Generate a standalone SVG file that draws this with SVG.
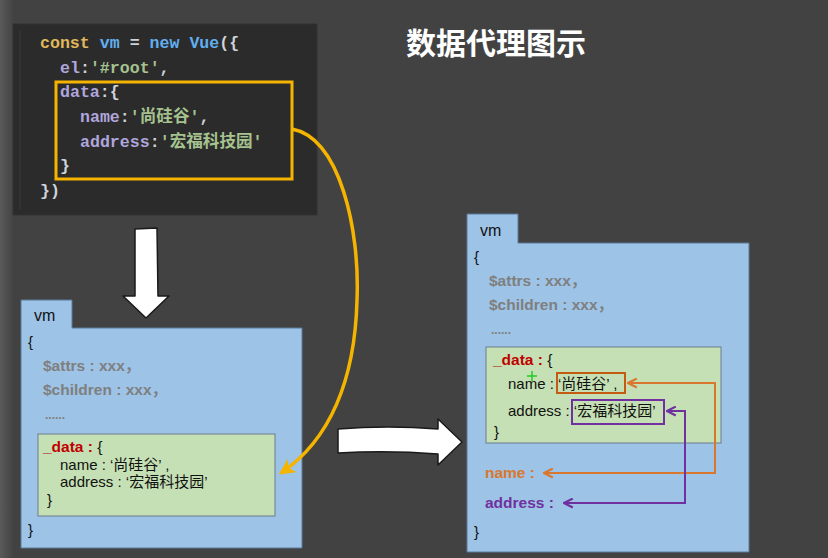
<svg xmlns="http://www.w3.org/2000/svg" width="828" height="558" viewBox="0 0 828 558">
<defs>
<linearGradient id="bgl" x1="0" y1="0" x2="1" y2="0">
<stop offset="0" stop-color="#5a5a5a"/><stop offset="1" stop-color="#424242"/>
</linearGradient>
<marker id="ya" viewBox="0 0 12 12" refX="10" refY="6" markerWidth="16" markerHeight="16" orient="auto" markerUnits="userSpaceOnUse">
<path d="M0,0 L12,6 L0,12 L3,6 Z" fill="#f5b400"/>
</marker>
<marker id="oa" viewBox="0 0 10 10" refX="9" refY="5" markerWidth="11" markerHeight="11" orient="auto-start-reverse" markerUnits="userSpaceOnUse">
<path d="M1,1 L9,5 L1,9" fill="none" stroke="#d9772f" stroke-width="2"/>
</marker>
<marker id="pa" viewBox="0 0 10 10" refX="9" refY="5" markerWidth="11" markerHeight="11" orient="auto-start-reverse" markerUnits="userSpaceOnUse">
<path d="M1,1 L9,5 L1,9" fill="none" stroke="#7030a0" stroke-width="2"/>
</marker>
</defs>
<style>
.code{font-family:"Liberation Mono","Noto Sans CJK SC",monospace;font-size:16.6px;font-weight:bold}
.kw{fill:#e0b85a}.bl{fill:#61afef}.pu{fill:#b0a6dc}.st{fill:#a5c28f}.pn{fill:#cfd3da}
.t{font-family:"Liberation Sans","Noto Sans CJK SC",sans-serif;fill:#111}
.g{font-weight:bold;fill:#7f7f7f;font-size:15.5px}
.vmbox{fill:#9dc3e6;stroke:#5b7a99;stroke-width:1}
.dbox{fill:#c5e0b4;stroke:#6a7d8c;stroke-width:1}
.arrow{fill:#ffffff;stroke:#1a1a1a;stroke-width:1.5;stroke-linejoin:round}
</style>
<rect width="828" height="558" fill="#424242"/>
<rect width="14" height="558" fill="url(#bgl)"/>

<text x="406" y="54" font-family="Noto Sans CJK SC,sans-serif" font-weight="bold" font-size="30" fill="#ffffff">数据代理图示</text>

<g id="code">
<rect x="13" y="24" width="304" height="191" fill="#2b2b2b" stroke="#333" stroke-width="1"/>
<line x1="20" y1="30" x2="20" y2="210" stroke="#3a3a3a" stroke-width="1"/>
<text class="code" x="40" y="48"><tspan class="kw">const</tspan><tspan class="bl"> vm</tspan><tspan class="pn"> = </tspan><tspan class="bl">new Vue</tspan><tspan class="pn">({</tspan></text>
<text class="code" x="60" y="73"><tspan class="pu">el</tspan><tspan class="pn">:</tspan><tspan class="st">'#root'</tspan><tspan class="pn">,</tspan></text>
<text class="code" x="60" y="97"><tspan class="pu">data</tspan><tspan class="pn">:{</tspan></text>
<text class="code" x="80" y="122"><tspan class="pu">name</tspan><tspan class="pn">:</tspan><tspan class="st">'尚硅谷'</tspan><tspan class="pn">,</tspan></text>
<text class="code" x="80" y="147"><tspan class="pu">address</tspan><tspan class="pn">:</tspan><tspan class="st">'宏福科技园'</tspan></text>
<text class="code pn" x="60" y="171">}</text>
<text class="code pn" x="40" y="196">})</text>
<rect x="56" y="82" width="236" height="97" fill="none" stroke="#f5b400" stroke-width="3"/>
</g>

<g id="down-arrow">
<path class="arrow" d="M135,229 L157,228 L158,296 L169,296 L146,318 L123,296 L135,296 Z"/>
</g>

<g id="vm-left">
<path class="vmbox" d="M21,300 H72 V328 H302 V548 H21 Z"/>
<text class="t" x="34" y="321" font-size="16">vm</text>
<text class="t" x="28" y="347" font-size="15">{</text>
<text class="t g" x="43" y="371">$attrs : xxx，</text>
<text class="t g" x="43" y="395">$children : xxx，</text>
<text class="t g" x="45" y="419" style="font-size:12px">......</text>
<g id="data-left">
<rect class="dbox" x="38" y="434" width="237" height="82"/>
<text class="t" x="43" y="452" font-size="15.5"><tspan font-weight="bold" style="fill:#c00000">_data : </tspan>{</text>
<text class="t" x="60" y="470" font-size="15">name : ‘尚硅谷’ ,</text>
<text class="t" x="60" y="487" font-size="15">address : ‘宏福科技园’</text>
<text class="t" x="47" y="505" font-size="15">}</text>
</g>
<text class="t" x="28" y="535" font-size="15">}</text>
</g>

<g id="right-arrow">
<path class="arrow" d="M338,429 Q388,425 438,429 L438,419 L462,442 L438,465 L438,454 Q388,450 338,453 Z"/>
</g>

<g id="vm-right">
<path class="vmbox" d="M467,214 H518 V243 H749 V552 H467 Z"/>
<text class="t" x="480" y="236" font-size="16">vm</text>
<text class="t" x="474" y="262" font-size="15">{</text>
<text class="t g" x="489" y="286">$attrs : xxx，</text>
<text class="t g" x="489" y="310">$children : xxx，</text>
<text class="t g" x="491" y="334" style="font-size:12px">......</text>
<g id="data-right">
<rect class="dbox" x="486" y="347" width="235" height="96"/>
<text class="t" x="493" y="365" font-size="15.5"><tspan font-weight="bold" style="fill:#c00000">_data : </tspan>{</text>
<text class="t" x="508" y="389" font-size="15">name : ‘尚硅谷’ ,</text>
<text class="t" x="508" y="416" font-size="15">address : ‘宏福科技园’</text>
<text class="t" x="494" y="437" font-size="15">}</text>
<path d="M532,371 V381 M527,376 H537" stroke="#22cc22" stroke-width="1.5"/>
<rect x="557" y="373" width="68" height="20" fill="none" stroke="#c55a11" stroke-width="2"/>
<rect x="572" y="400" width="92" height="24" fill="none" stroke="#7030a0" stroke-width="2"/>
</g>
<text class="t" x="485" y="478" font-size="15.5" font-weight="bold" style="fill:#d9772f">name :</text>
<text class="t" x="485" y="508" font-size="15.5" font-weight="bold" style="fill:#7030a0">address :</text>
<text class="t" x="474" y="537" font-size="15">}</text>
</g>

<g id="connectors" fill="none">
<path d="M292,129 C340,138 360,230 357,300 C355,380 330,440 281,473" stroke="#f5b400" stroke-width="3.5" marker-end="url(#ya)"/>
<path d="M628,383 H715 V473 H544" stroke="#d9772f" stroke-width="2" marker-start="url(#oa)" marker-end="url(#oa)"/>
<path d="M667,411 H685 V503 H564" stroke="#7030a0" stroke-width="2" marker-start="url(#pa)" marker-end="url(#pa)"/>
</g>
</svg>
